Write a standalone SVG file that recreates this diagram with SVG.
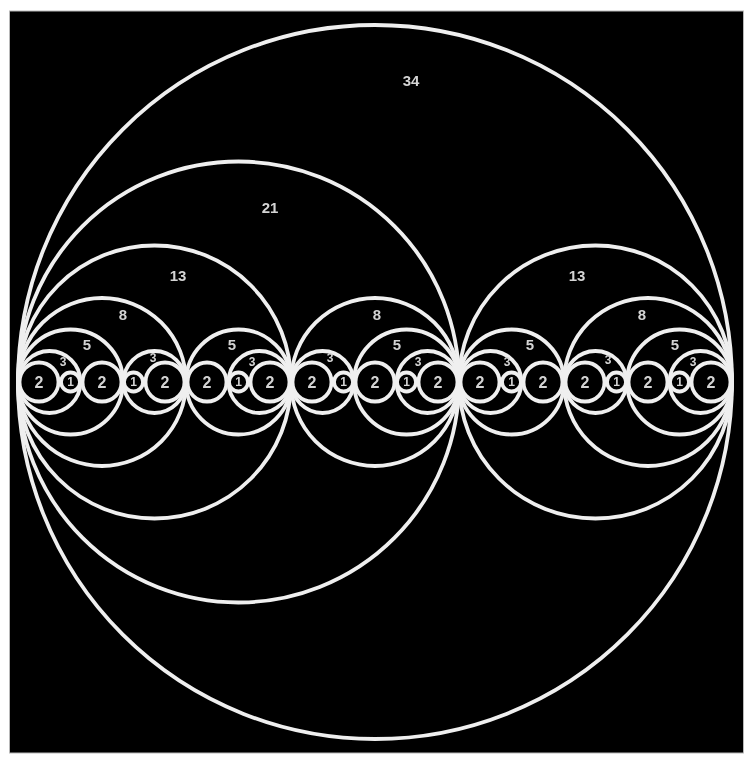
<svg xmlns="http://www.w3.org/2000/svg" width="751" height="763" viewBox="0 0 751 763">
<style>
.c{fill:#000;stroke:#efefef;stroke-width:3.8}
.t{font-family:"Liberation Sans",Arial,sans-serif;font-weight:bold;fill:#d4d4d4;text-anchor:middle}
.b{font-size:15px}
.s{font-size:12px}
.d{font-size:16px}
</style>
<defs>
<filter id="soft" x="-5%" y="-5%" width="110%" height="110%"><feGaussianBlur stdDeviation="0.7"/></filter>
</defs>
<rect x="0" y="0" width="751" height="763" fill="#fff"/>
<rect x="9.5" y="11" width="734" height="742" fill="#000" stroke="#b8b8b8" stroke-width="1"/>
<g filter="url(#soft)">
<g id="n34"><circle class="c" cx="375" cy="382" r="357"/><text class="t b" x="411" y="86">34</text>
 <g id="n21"><circle class="c" cx="238.5" cy="382" r="220.5"/><text class="t b" x="270" y="213">21</text>
  <g id="n13a"><circle class="c" cx="154.5" cy="382" r="136.5"/><text class="t b" x="178" y="281">13</text>
   <g id="n8a"><circle class="c" cx="102" cy="382" r="84"/><text class="t b" x="123" y="320">8</text>
    <g id="n5a"><circle class="c" cx="70.5" cy="382" r="52.5"/><text class="t b" x="87" y="350">5</text>
     <g id="n3a"><circle class="c" cx="49.5" cy="382" r="31"/><text class="t s" x="63" y="366">3</text>
      <g id="n2a"><circle class="c" cx="39" cy="382" r="19.5"/><text class="t d" x="39" y="387.7">2</text></g>
      <g id="n1a"><circle class="c" cx="70.5" cy="382" r="9.5"/><text class="t s" x="70.5" y="386.3">1</text></g>
     </g>
     <g id="n2b"><circle class="c" cx="102" cy="382" r="19.5"/><text class="t d" x="102" y="387.7">2</text></g>
    </g>
    <g id="n3b"><circle class="c" cx="154.5" cy="382" r="31"/><text class="t s" x="153" y="362">3</text>
     <g id="n1b"><circle class="c" cx="133.5" cy="382" r="9.5"/><text class="t s" x="133.5" y="386.3">1</text></g>
     <g id="n2c"><circle class="c" cx="165" cy="382" r="19.5"/><text class="t d" x="165" y="387.7">2</text></g>
    </g>
   </g>
   <g id="n5b"><circle class="c" cx="238.5" cy="382" r="52.5"/><text class="t b" x="232" y="350">5</text>
    <g id="n2d"><circle class="c" cx="207" cy="382" r="19.5"/><text class="t d" x="207" y="387.7">2</text></g>
    <g id="n3c"><circle class="c" cx="259.5" cy="382" r="31"/><text class="t s" x="252" y="366">3</text>
     <g id="n1c"><circle class="c" cx="238.5" cy="382" r="9.5"/><text class="t s" x="238.5" y="386.3">1</text></g>
     <g id="n2e"><circle class="c" cx="270" cy="382" r="19.5"/><text class="t d" x="270" y="387.7">2</text></g>
    </g>
   </g>
  </g>
  <g id="n8b"><circle class="c" cx="375" cy="382" r="84"/><text class="t b" x="377" y="320">8</text>
   <g id="n3d"><circle class="c" cx="322.5" cy="382" r="31"/><text class="t s" x="330" y="362">3</text>
    <g id="n2f"><circle class="c" cx="312" cy="382" r="19.5"/><text class="t d" x="312" y="387.7">2</text></g>
    <g id="n1d"><circle class="c" cx="343.5" cy="382" r="9.5"/><text class="t s" x="343.5" y="386.3">1</text></g>
   </g>
   <g id="n5c"><circle class="c" cx="406.5" cy="382" r="52.5"/><text class="t b" x="397" y="350">5</text>
    <g id="n2g"><circle class="c" cx="375" cy="382" r="19.5"/><text class="t d" x="375" y="387.7">2</text></g>
    <g id="n3e"><circle class="c" cx="427.5" cy="382" r="31"/><text class="t s" x="418" y="366">3</text>
     <g id="n1e"><circle class="c" cx="406.5" cy="382" r="9.5"/><text class="t s" x="406.5" y="386.3">1</text></g>
     <g id="n2h"><circle class="c" cx="438" cy="382" r="19.5"/><text class="t d" x="438" y="387.7">2</text></g>
    </g>
   </g>
  </g>
 </g>
 <g id="n13b"><circle class="c" cx="595.5" cy="382" r="136.5"/><text class="t b" x="577" y="281">13</text>
  <g id="n5d"><circle class="c" cx="511.5" cy="382" r="52.5"/><text class="t b" x="530" y="350">5</text>
   <g id="n3f"><circle class="c" cx="490.5" cy="382" r="31"/><text class="t s" x="507" y="366">3</text>
    <g id="n2i"><circle class="c" cx="480" cy="382" r="19.5"/><text class="t d" x="480" y="387.7">2</text></g>
    <g id="n1f"><circle class="c" cx="511.5" cy="382" r="9.5"/><text class="t s" x="511.5" y="386.3">1</text></g>
   </g>
   <g id="n2j"><circle class="c" cx="543" cy="382" r="19.5"/><text class="t d" x="543" y="387.7">2</text></g>
  </g>
  <g id="n8c"><circle class="c" cx="648" cy="382" r="84"/><text class="t b" x="642" y="320">8</text>
   <g id="n3g"><circle class="c" cx="595.5" cy="382" r="31"/><text class="t s" x="608" y="364">3</text>
    <g id="n2k"><circle class="c" cx="585" cy="382" r="19.5"/><text class="t d" x="585" y="387.7">2</text></g>
    <g id="n1g"><circle class="c" cx="616.5" cy="382" r="9.5"/><text class="t s" x="616.5" y="386.3">1</text></g>
   </g>
   <g id="n5e"><circle class="c" cx="679.5" cy="382" r="52.5"/><text class="t b" x="675" y="350">5</text>
    <g id="n2l"><circle class="c" cx="648" cy="382" r="19.5"/><text class="t d" x="648" y="387.7">2</text></g>
    <g id="n3h"><circle class="c" cx="700.5" cy="382" r="31"/><text class="t s" x="693" y="366">3</text>
     <g id="n1h"><circle class="c" cx="679.5" cy="382" r="9.5"/><text class="t s" x="679.5" y="386.3">1</text></g>
     <g id="n2m"><circle class="c" cx="711" cy="382" r="19.5"/><text class="t d" x="711" y="387.7">2</text></g>
    </g>
   </g>
  </g>
 </g>
</g>
</g>
</svg>
